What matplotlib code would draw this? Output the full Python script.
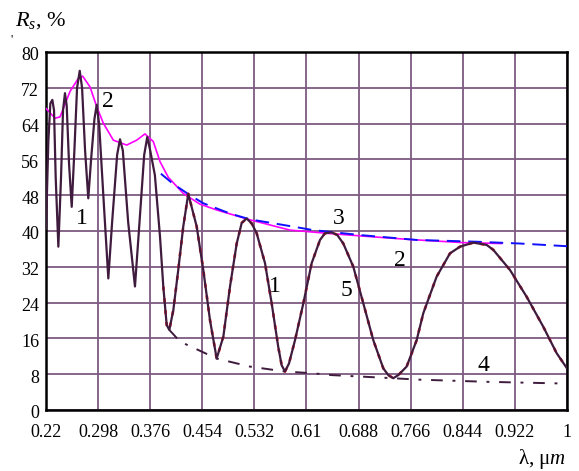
import matplotlib
matplotlib.use("Agg")
import matplotlib.pyplot as plt
import matplotlib.transforms as mtransforms

# ---- data ----
x_ticks = [0.22, 0.298, 0.376, 0.454, 0.532, 0.61, 0.688, 0.766, 0.844, 0.922, 1.0]
x_tick_labels = ["0.22", "0.298", "0.376", "0.454", "0.532", "0.61", "0.688", "0.766", "0.844", "0.922", "1"]
y_ticks = [0, 8, 16, 24, 32, 40, 48, 56, 64, 72, 80]

# curve 1 (measured spectrum, dark)
c1_x = [0.220, 0.2235, 0.2265, 0.2295, 0.232, 0.2345, 0.2385, 0.2425, 0.2455, 0.2484,
        0.251, 0.2545, 0.2585, 0.2625, 0.2665, 0.2705, 0.274, 0.2785, 0.2833, 0.2875,
        0.2925, 0.2959, 0.2995, 0.307, 0.3133, 0.319, 0.3265, 0.3308, 0.335, 0.343,
        0.3532, 0.360, 0.367, 0.3716, 0.376, 0.383, 0.3907, 0.3956, 0.4007, 0.4046,
        0.4106, 0.418, 0.4255, 0.433, 0.4456, 0.4555, 0.4655, 0.4755, 0.4855, 0.4955,
        0.5055, 0.513, 0.5204, 0.5279, 0.5354, 0.5479, 0.5579, 0.5677, 0.5728, 0.5778,
        0.5838, 0.5928, 0.6052, 0.6177, 0.6302, 0.6377, 0.6477, 0.6561, 0.6651, 0.6801,
        0.6951, 0.710, 0.725, 0.7325, 0.7399, 0.7474, 0.7599, 0.7749, 0.7848, 0.8048,
        0.8248, 0.8398, 0.8597, 0.8796, 0.8896, 0.9146, 0.9396, 0.9645, 0.9845, 1.0]
c1_y = [40.5, 60.0, 68.5, 69.3, 67.0, 52.0, 36.5, 52.0, 67.0, 70.8,
        68.0, 55.0, 45.4, 58.0, 72.0, 75.8, 72.0, 58.0, 47.3, 56.0,
        65.0, 68.2, 64.0, 45.0, 29.4, 42.0, 57.0, 60.5, 58.0, 42.0,
        27.6, 42.0, 57.0, 61.0, 58.0, 52.5, 38.7, 27.6, 19.0, 17.9,
        22.3, 31.3, 41.0, 48.3, 41.0, 31.3, 20.1, 11.5, 16.4, 27.6,
        37.2, 41.8, 42.8, 41.7, 39.5, 32.8, 23.8, 14.1, 10.0, 8.6,
        10.4, 15.6, 23.8, 32.8, 38.0, 39.5, 39.7, 39.1, 37.2, 32.0,
        23.8, 15.6, 9.3, 7.8, 7.1, 7.8, 9.7, 15.6, 21.6, 29.8,
        35.0, 36.5, 37.4, 36.9, 35.8, 31.3, 25.3, 18.6, 12.7, 9.3]

# curve 5 (red, calculated, coincides with 1 at long wavelengths)
c5_x = [0.3956, 0.4007, 0.4046, 0.4106, 0.418, 0.4255, 0.433, 0.4456, 0.4555, 0.4655,
        0.4755, 0.4855, 0.4955, 0.5055, 0.513, 0.5204, 0.5279, 0.5354, 0.5479, 0.5579,
        0.5677, 0.5728, 0.5778, 0.5838, 0.5928, 0.6052, 0.6177, 0.6302, 0.6377, 0.6477,
        0.6561, 0.6651, 0.6801, 0.6951, 0.710, 0.725, 0.7325, 0.7399, 0.7474, 0.7599,
        0.7749, 0.7848, 0.8048, 0.8248, 0.8398, 0.8597, 0.8796, 0.8896, 0.9146, 0.9396,
        0.9645, 0.9845, 1.0]
c5_y = [27.6, 19.0, 17.9, 22.3, 31.3, 41.0, 48.3, 41.0, 31.3, 20.1,
        11.5, 16.4, 27.6, 37.2, 41.8, 42.8, 41.7, 39.5, 32.8, 23.8,
        14.1, 10.0, 8.6, 10.4, 15.6, 23.8, 32.8, 38.0, 39.5, 39.7,
        39.1, 37.2, 32.0, 23.8, 15.6, 9.3, 7.8, 7.1, 7.8, 9.7,
        15.6, 21.6, 29.8, 35.0, 36.5, 37.4, 36.9, 35.8, 31.3, 25.3,
        18.6, 12.7, 9.3]

# curve 2 (magenta envelope)
c2_x = [0.220, 0.2335, 0.241, 0.256, 0.2684, 0.2749, 0.2859, 0.2959, 0.3058, 0.3208,
        0.3408, 0.3558, 0.3682, 0.3806, 0.3907, 0.4031, 0.4255, 0.4505, 0.4755, 0.5254,
        0.5853, 0.6477, 0.700, 0.765, 0.8447, 0.902]
c2_y = [67.4, 65.2, 65.5, 71.2, 74.1, 74.6, 72.2, 67.8, 64.1, 60.3,
        59.2, 60.3, 61.7, 60.0, 55.5, 52.0, 48.4, 46.0, 44.7, 42.5,
        40.2, 39.4, 38.8, 38.1, 37.4, 37.2]

# curve 3 (blue dashed envelope)
c3_x = [0.392, 0.4106, 0.4355, 0.4555, 0.4955, 0.5254, 0.5853, 0.620, 0.690, 0.775,
        0.865, 0.930, 1.0]
c3_y = [52.8, 50.5, 48.0, 46.2, 43.9, 42.6, 41.1, 40.2, 39.1, 38.0,
        37.6, 37.2, 36.6]

# curve 4 (lower envelope, dash-dot)
c4_x = [0.4046, 0.4206, 0.4755, 0.5254, 0.5778, 0.620, 0.6477, 0.740, 0.775, 0.880, 1.0]
c4_y = [17.9, 15.3, 11.5, 9.7, 8.6, 8.2, 7.8, 7.1, 6.8, 6.3, 5.9]

labels = ["1", "2", "3", "5", "1", "2", "4"]
label_x = [0.2734, 0.3133, 0.6577, 0.670, 0.5628, 0.750, 0.8747]
label_y = [42.8, 68.9, 42.8, 26.8, 27.6, 33.5, 10.0]

# ---- drawing ----
plt.rcParams['font.family'] = ['Liberation Serif', 'DejaVu Serif']
plt.rcParams['mathtext.fontset'] = 'custom'
plt.rcParams['mathtext.rm'] = 'Liberation Serif'
plt.rcParams['mathtext.it'] = 'Liberation Serif:italic'

fig = plt.figure(figsize=(5.79, 4.71), dpi=100)
ax = fig.add_axes([46/579, 61/471, 521/579, 358/471])

dark = '#3f1b3d'
grid_col = '#7d5a80'

ax.plot(c2_x, c2_y, color='#ff00ff', lw=1.2, zorder=3)
ax.plot(c3_x, c3_y, color='#1010ff', lw=1.4, dashes=(7, 4), zorder=3)
ax.plot(c4_x, c4_y, color=dark, lw=1.4, dashes=(6, 5, 1.5, 5), zorder=3)
ax.plot(c5_x, c5_y, color='#ff1010', lw=1.9, dashes=(1.5, 3), zorder=4)
ax.plot(c1_x, c1_y, color=dark, lw=1.6, zorder=5)

for t, lx, ly in zip(labels, label_x, label_y):
    ax.text(lx, ly, t, fontsize=17, ha='center', va='center', color='black', zorder=6)

ax.set_xlim(0.22, 1.0)
ax.set_ylim(0, 80)
ax.set_xticks(x_ticks)
ax.set_xticklabels(x_tick_labels)
ax.set_yticks(y_ticks)
ax.tick_params(length=0, labelsize=13)
ax.tick_params(axis='x', pad=10)
ax.tick_params(axis='y', pad=5)
off = mtransforms.ScaledTranslation(0, -2/100, fig.dpi_scale_trans)
for lab in ax.get_yticklabels():
    lab.set_transform(lab.get_transform() + off)
ax.grid(True, color=grid_col, lw=1.3, zorder=0)
ax.set_axisbelow(True)
for s in ax.spines.values():
    s.set_color('black')
    s.set_linewidth(1.8)

fig.text(15/579, 1 - 21/471, r'$R_s$' + ', %', fontsize=16, ha='left', va='center')
fig.text(12/579, 1 - 40/471, "'", fontsize=9, ha='center', va='center')
fig.text(566/579, 1 - 459/471, 'λ, μ' + r'$m$', fontsize=15, ha='right', va='center')

fig.savefig('out.png', dpi=100)
